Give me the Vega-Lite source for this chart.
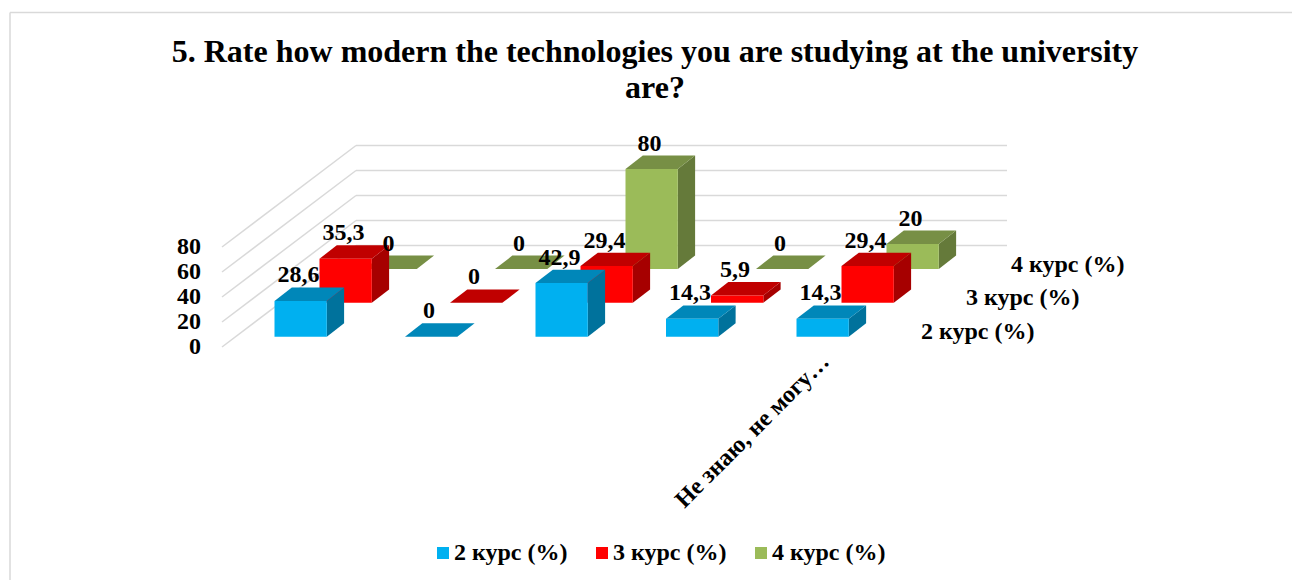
{
"$schema":"https://vega.github.io/schema/vega-lite/v6.json",
"width":1292,"height":580,"padding":0,"autosize":{"type":"none"},
"background":"white",
"config":{"view":{"stroke":null},"text":{"font":"Liberation Serif","fontWeight":"bold","fill":"#000000"}},
"title":{"text":["5. Rate how modern the technologies you are studying at the university","are?"],"font":"Liberation Serif","fontWeight":"bold","fontSize":32,"lineHeight":36,"color":"#000000","anchor":"middle","dx":9,"dy":134,"baseline":"alphabetic"},
"datasets":{
"bars":[
{"cat":0,"series":"4 курс (%)","s":2,"value":0},{"cat":1,"series":"4 курс (%)","s":2,"value":0},{"cat":2,"series":"4 курс (%)","s":2,"value":80},{"cat":3,"series":"4 курс (%)","s":2,"value":0},{"cat":4,"series":"4 курс (%)","s":2,"value":20},
{"cat":0,"series":"3 курс (%)","s":1,"value":35.3},{"cat":1,"series":"3 курс (%)","s":1,"value":0},{"cat":2,"series":"3 курс (%)","s":1,"value":29.4},{"cat":3,"series":"3 курс (%)","s":1,"value":5.9},{"cat":4,"series":"3 курс (%)","s":1,"value":29.4},
{"cat":0,"series":"2 курс (%)","s":0,"value":28.6},{"cat":1,"series":"2 курс (%)","s":0,"value":0},{"cat":2,"series":"2 курс (%)","s":0,"value":42.9},{"cat":3,"series":"2 курс (%)","s":0,"value":14.3},{"cat":4,"series":"2 курс (%)","s":0,"value":14.3}
],
"ticks":[{"tick":0},{"tick":20},{"tick":40},{"tick":60},{"tick":80}],
"seriesNames":[{"series":"2 курс (%)","s":0},{"series":"3 курс (%)","s":1},{"series":"4 курс (%)","s":2}],
"categories":[{"cat":4,"label":"Не знаю, не могу…"}],
"frame":[{"edge":"left"},{"edge":"top"}]
},
"encoding":{
"x":{"field":"px","type":"quantitative","scale":{"domain":[0,1292],"nice":false,"zero":false},"axis":null},
"y":{"field":"py","type":"quantitative","scale":{"domain":[580,0],"nice":false,"zero":false},"axis":null}
},
"layer":[
{"data":{"name":"frame"},
 "transform":[
  {"calculate":"10","as":"px"},
  {"calculate":"datum.edge=='left'?10:1292","as":"px2"},
  {"calculate":"12.5","as":"py"},
  {"calculate":"datum.edge=='left'?580:12.5","as":"py2"}],
 "mark":{"type":"rule","stroke":"#d9d9d9","strokeWidth":1.5},
 "encoding":{"x2":{"field":"px2"},"y2":{"field":"py2"}}},
{"data":{"name":"ticks"},
 "transform":[
  {"calculate":"356","as":"px"},{"calculate":"1007","as":"px2"},
  {"calculate":"245.5-1.25*datum.tick","as":"py"},{"calculate":"datum.py","as":"py2"}],
 "mark":{"type":"rule","stroke":"#d9d9d9","strokeWidth":1.5},
 "encoding":{"x2":{"field":"px2"},"y2":{"field":"py2"}}},
{"data":{"name":"ticks"},
 "transform":[
  {"calculate":"222","as":"px"},{"calculate":"356","as":"px2"},
  {"calculate":"347-1.25*datum.tick","as":"py"},{"calculate":"245.5-1.25*datum.tick","as":"py2"}],
 "mark":{"type":"rule","stroke":"#d9d9d9","strokeWidth":1.5},
 "encoding":{"x2":{"field":"px2"},"y2":{"field":"py2"}}},
{"data":{"name":"ticks"},
 "transform":[{"calculate":"201","as":"px"},{"calculate":"347-1.25*datum.tick","as":"py"}],
 "mark":{"type":"text","align":"right","baseline":"middle","fontSize":24},
 "encoding":{"text":{"field":"tick"}}},
{"data":{"name":"bars"},
 "transform":[
  {"calculate":"['side','top','front']","as":"face"},{"flatten":["face"]},
  {"calculate":"[0,1,2,3]","as":"v"},{"flatten":["v"]},
  {"calculate":"274.5+130.5*datum.cat+45*datum.s","as":"x0"},
  {"calculate":"336.7-33.85*datum.s","as":"yb"},
  {"calculate":"datum.yb-1.25*datum.value","as":"yt"},
  {"calculate":"datum.face=='front'?[datum.x0,datum.x0+52.3,datum.x0+52.3,datum.x0][datum.v]:datum.face=='side'?[datum.x0+52.3,datum.x0+69.6,datum.x0+69.6,datum.x0+52.3][datum.v]:[datum.x0,datum.x0+52.3,datum.x0+69.6,datum.x0+17.3][datum.v]","as":"px"},
  {"calculate":"datum.face=='front'?[datum.yt,datum.yt,datum.yb,datum.yb][datum.v]:datum.face=='side'?[datum.yt,datum.yt-13.4,datum.yb-13.4,datum.yb][datum.v]:[datum.yt,datum.yt,datum.yt-13.4,datum.yt-13.4][datum.v]","as":"py"},
  {"calculate":"datum.s+'-'+datum.cat+'-'+datum.face","as":"key"},
  {"calculate":"datum.face=='front'?datum.series:datum.series+' '+datum.face","as":"shade"}],
 "mark":{"type":"line","strokeWidth":0,"interpolate":"linear"},
 "encoding":{
  "order":{"field":"v","type":"quantitative"},
  "detail":{"field":"key"},
  "fill":{"field":"shade","type":"nominal",
   "scale":{"domain":["2 курс (%)","3 курс (%)","4 курс (%)","2 курс (%) top","3 курс (%) top","4 курс (%) top","2 курс (%) side","3 курс (%) side","4 курс (%) side"],
            "range":["#00B0F0","#FF0000","#9BBB59","#0087B9","#C00000","#778F45","#00729C","#A60000","#657A3A"]},
   "legend":{"values":["2 курс (%)","3 курс (%)","4 курс (%)"],"title":null,"orient":"none","legendX":431,"legendY":541,"direction":"horizontal","columns":3,"symbolType":"square","symbolSize":144,"symbolStrokeWidth":0,"labelFont":"Liberation Serif","labelFontWeight":"bold","labelFontSize":24,"labelColor":"#000000","labelOffset":-1,"columnPadding":22,"labelLimit":300}}
 }},
{"data":{"name":"bars"},
 "transform":[
  {"calculate":"274.5+130.5*datum.cat+45*datum.s+24","as":"px"},
  {"calculate":"336.7-33.85*datum.s-1.25*datum.value-25.5","as":"py"},
  {"calculate":"replace(toString(datum.value),'.',',')","as":"lab"}],
 "mark":{"type":"text","align":"center","baseline":"middle","fontSize":24},
 "encoding":{"text":{"field":"lab"}}},
{"data":{"name":"seriesNames"},
 "transform":[{"calculate":"921+45*datum.s","as":"px"},{"calculate":"331.5-33.5*datum.s","as":"py"}],
 "mark":{"type":"text","align":"left","baseline":"middle","fontSize":24},
 "encoding":{"text":{"field":"series"}}},
{"data":{"name":"categories"},
 "transform":[{"calculate":"274.5+130.5*datum.cat+29","as":"px"},{"calculate":"358","as":"py"}],
 "mark":{"type":"text","align":"right","baseline":"middle","fontSize":24,"angle":315},
 "encoding":{"text":{"field":"label"}}}
]
}
